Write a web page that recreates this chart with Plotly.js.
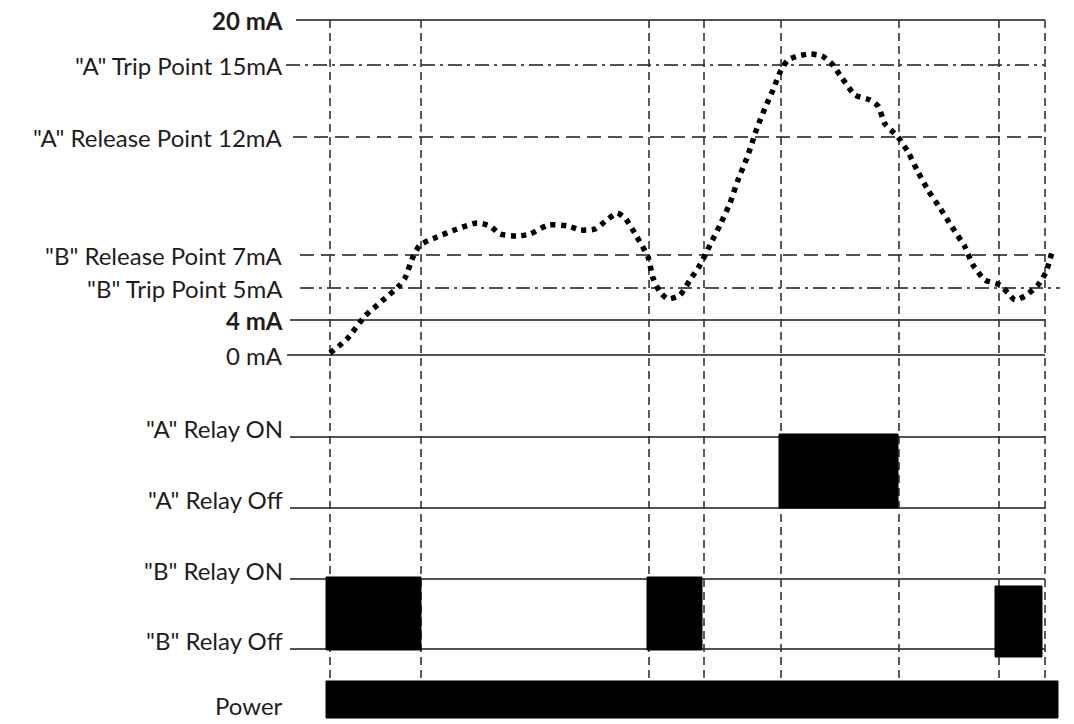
<!DOCTYPE html>
<html>
<head>
<meta charset="utf-8">
<script src="https://cdn.plot.ly/plotly-3.0.1.min.js"></script>
<style>html,body{margin:0;padding:0;background:#fff;}#chart{width:1074px;height:724px;}</style>
</head>
<body>
<div id="chart"></div>
<script>
// ---- Data (diagram units: x = time, y = vertical level in the drawing) ----
const levelLabels = ['<b>20 mA</b>', '"A" Trip Point 15mA', '"A" Release Point 12mA', '"B" Release Point 7mA', '"B" Trip Point 5mA', '<b>4 mA</b>', '0 mA'];
const levelY      = [20, 65, 137, 255, 288, 320, 355];
const levelStyle  = ['solid', 'dashdot', 'dash', 'dash', 'dashdot', 'solid', 'solid'];
const levelStart  = [296, 286, 293, 300, 300, 290, 287];
const levelEnd    = [1045, 1045, 1045, 1045, 1060, 1045, 1045];

const relayLabels = ['"A" Relay ON', '"A" Relay Off', '"B" Relay ON', '"B" Relay Off'];
const relayY      = [437, 508, 579, 649];

// event times (vertical dashed markers)
const eventT = [330, 421, 649, 704, 781, 899, 999, 1045];

// relay active intervals
const relayAStart = [779];
const relayAEnd   = [898];
const relayATop   = [434];
const relayABot   = [508];
const relayBStart = [326, 647, 995];
const relayBEnd   = [421, 702, 1042];
const relayBTop   = [577, 577, 586];
const relayBBot   = [650, 650, 657];
const powerStart  = [326];
const powerEnd    = [1058];
const powerTop    = [681];
const powerBot    = [718];

// input signal curve
const curveT = [330,347,365,382,398,405,413,420,437,457,477,490,500,517,530,548,568,580,595,608,617,625,637,648,653,660,668,680,690,700,710,720,730,738,748,757,765,773,781,788,798,810,822,832,842,855,870,878,885,898,908,918,928,940,952,965,973,985,1000,1008,1015,1025,1038,1046,1053];
const curveY = [353,339,316,301,287,278,257,245,237,229,223,226,234,236,234,225,226,230,229,219,213,218,237,257,278,292,299,295,280,265,245,225,203,180,155,128,108,90,70,60,56,54,56,64,78,95,100,106,124,137,152,172,190,208,227,247,265,280,285,293,300,296,285,272,248];

// ---- Build traces ----
const traces = [];
const fontFam = 'Lato, "Liberation Sans", sans-serif';

levelY.forEach((y, i) => {
  traces.push({type:'scatter', mode:'lines', x:[levelStart[i], levelEnd[i]], y:[y, y],
    line:{color:'#1a1a1a', width:1.6, dash: levelStyle[i]==='dash' ? '14px,7px' : (levelStyle[i]==='dashdot' ? '14px,5px,3px,5px' : 'solid')},
    hoverinfo:'skip'});
});
relayY.forEach((y) => {
  traces.push({type:'scatter', mode:'lines', x:[290, 1045], y:[y, y],
    line:{color:'#1a1a1a', width:1.6}, hoverinfo:'skip'});
});
eventT.forEach((t) => {
  traces.push({type:'scatter', mode:'lines', x:[t, t], y:[20, 680],
    line:{color:'#333', width:1.6, dash:'8px,5px'}, hoverinfo:'skip'});
});

function boxes(starts, ends, tops, bots) {
  starts.forEach((s, i) => {
    traces.push({type:'scatter', mode:'lines', fill:'toself', fillcolor:'#000',
      x:[s, ends[i], ends[i], s, s], y:[tops[i], tops[i], bots[i], bots[i], tops[i]],
      line:{color:'#000', width:1}, hoverinfo:'skip'});
  });
}
boxes(relayAStart, relayAEnd, relayATop, relayABot);
boxes(relayBStart, relayBEnd, relayBTop, relayBBot);
boxes(powerStart, powerEnd, powerTop, powerBot);

traces.push({type:'scatter', mode:'lines', x:curveT, y:curveY,
  line:{color:'#000', width:5.5, dash:'5px,5.5px', shape:'spline', smoothing:0.6}, hoverinfo:'skip'});

// ---- Annotations ----
const annotations = [];
const fs = 24;
levelLabels.forEach((t, i) => {
  annotations.push({x:285, y:levelY[i], xref:'x', yref:'y', text:t, showarrow:false,
    xanchor:'right', yanchor:'middle', font:{family:fontFam, size:fs, color:'#1e1e1e'}});
});
relayLabels.forEach((t, i) => {
  annotations.push({x:285, y:relayY[i]-9, xref:'x', yref:'y', text:t, showarrow:false,
    xanchor:'right', yanchor:'middle', font:{family:fontFam, size:fs, color:'#1e1e1e'}});
});
annotations.push({x:285, y:705, xref:'x', yref:'y', text:'Power', showarrow:false,
  xanchor:'right', yanchor:'middle', font:{family:fontFam, size:fs, color:'#1e1e1e'}});

const layout = {
  width:1074, height:724,
  margin:{l:0, r:0, t:0, b:0},
  paper_bgcolor:'#fff', plot_bgcolor:'#fff',
  showlegend:false,
  xaxis:{range:[0,1074], visible:false, fixedrange:true},
  yaxis:{range:[724,0], visible:false, fixedrange:true},
  annotations: annotations
};

Plotly.newPlot('chart', traces, layout, {staticPlot:true, displayModeBar:false});
</script>
</body>
</html>
